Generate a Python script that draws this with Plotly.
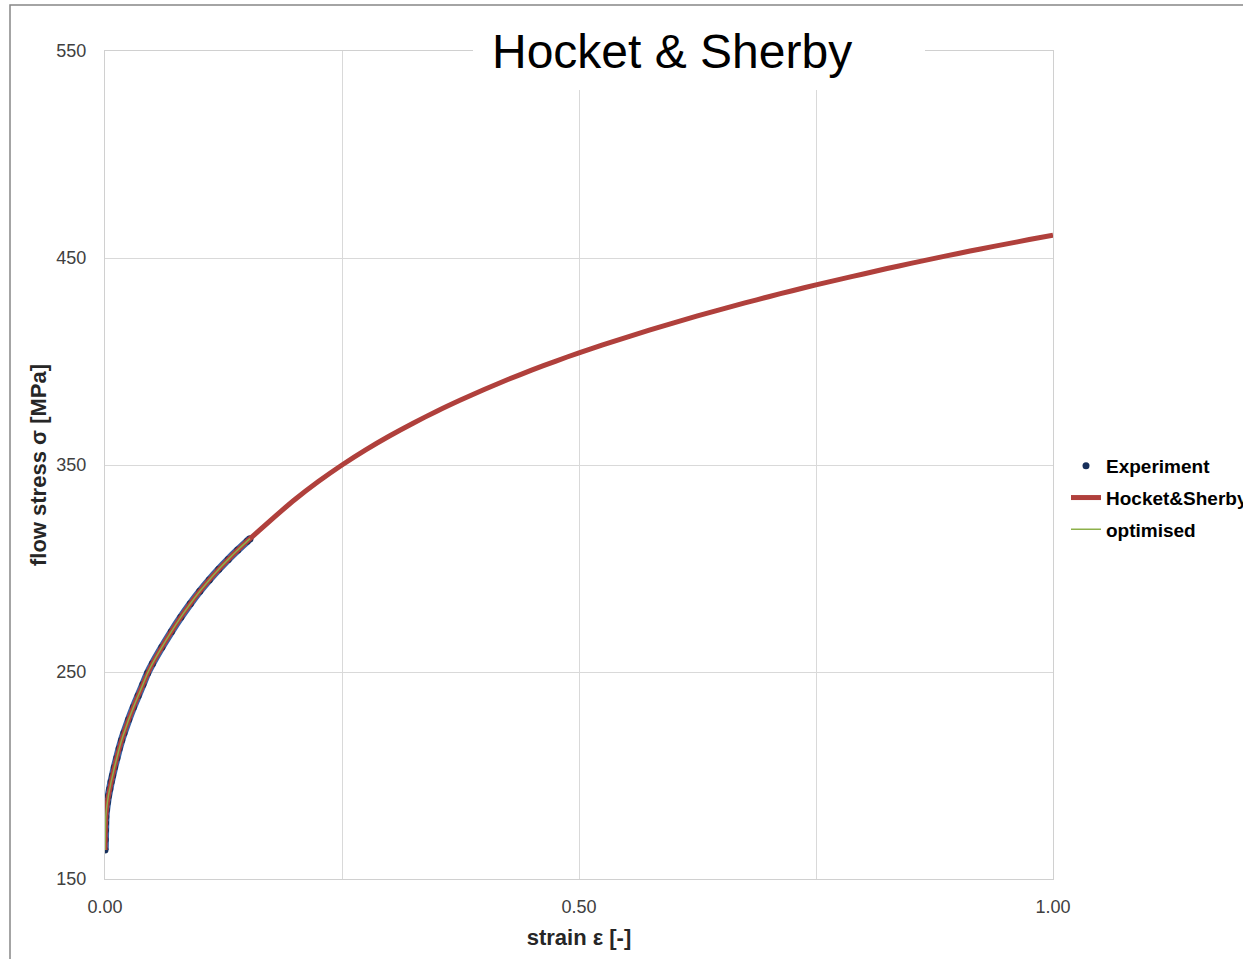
import plotly.graph_objects as go

# Measured flow curve (strain [-], flow stress [MPa])
exp_strain = [0, 0.0002, 0.0004, 0.0006, 0.0008, 0.0015, 0.0025, 0.0035, 0.005, 0.0065,
              0.008, 0.01, 0.0125, 0.015, 0.0175, 0.02, 0.025, 0.03, 0.035, 0.04,
              0.045, 0.05, 0.06, 0.07, 0.08, 0.09, 0.10, 0.11, 0.12, 0.13,
              0.14, 0.15, 0.153]
exp_stress = [164, 169, 173.5, 177, 180, 183.5, 187, 190, 193.5, 197,
              200, 204, 208.5, 213, 217, 220.5, 227, 233, 238.5, 244,
              249.5, 254, 262, 269.5, 276.5, 283, 289, 294.5, 299.6, 304.4,
              308.9, 313.2, 314.4]

# Hocket & Sherby model curve, extrapolated to strain 1.0
hs_strain = [0, 0.0008, 0.0025, 0.005, 0.01, 0.015, 0.02, 0.03, 0.04, 0.05,
             0.06, 0.07, 0.08, 0.09, 0.1, 0.11, 0.12, 0.13, 0.14, 0.15,
             0.175, 0.2, 0.225, 0.25, 0.275, 0.3, 0.325, 0.35, 0.375, 0.4,
             0.425, 0.45, 0.475, 0.5, 0.525, 0.55, 0.575, 0.6, 0.625, 0.65,
             0.675, 0.7, 0.725, 0.75, 0.775, 0.8, 0.825, 0.85, 0.875, 0.9,
             0.925, 0.95, 0.975, 1.0]
hs_stress = [164, 180, 187, 193.5, 204, 213, 220.5, 233, 244, 254,
             262, 269.5, 276.5, 283, 289, 294.5, 299.6, 304.4, 308.9, 313.2,
             323.4, 333.2, 342.0, 350.0, 357.3, 364.0, 370.2, 376.0, 381.4, 386.5,
             391.3, 395.8, 400.1, 404.2, 408.0, 411.7, 415.3, 418.7, 422.0, 425.2,
             428.3, 431.3, 434.2, 437.0, 439.7, 442.3, 444.9, 447.4, 449.8, 452.2,
             454.5, 456.7, 458.9, 461.0]

# Optimised fit over the measured range
opt_strain = exp_strain
opt_stress = exp_stress

x_ticks = [0, 0.25, 0.5, 0.75, 1.0]
x_ticktext = ["0.00", "", "0.50", "", "1.00"]
y_ticks = [150, 250, 350, 450, 550]

FONT = "Liberation Sans, Arial, sans-serif"

fig = go.Figure()

# continuous band of dense measurement points
fig.add_trace(go.Scatter(
    x=exp_strain, y=exp_stress, mode="lines",
    line=dict(color="#3463a8", width=7.5, shape="spline", smoothing=0.6),
    showlegend=False, hoverinfo="skip"))
fig.add_trace(go.Scatter(
    x=exp_strain, y=exp_stress, mode="markers", name="Experiment", legendgroup="a",
    marker=dict(color="#172f5a", size=7)))
fig.add_trace(go.Scatter(
    x=hs_strain, y=hs_stress, mode="lines", name="Hocket&Sherby", legendgroup="b",
    line=dict(color="#b0403c", width=5, shape="spline", smoothing=0.6)))
fig.add_trace(go.Scatter(
    x=opt_strain, y=opt_stress, mode="lines", name="optimised", legendgroup="c",
    line=dict(color="#8db04a", width=1.5, shape="spline", smoothing=0.6)))

W, H = 1243, 959
L, R, T, B = 105, 190, 51, 80
pw, ph = W - L - R, H - T - B


def px(xp):
    return (xp - L) / pw


def py(yp):
    return (H - B - yp) / ph


fig.update_layout(
    width=W, height=H,
    margin=dict(l=L, r=R, t=T, b=B, autoexpand=False),
    paper_bgcolor="white", plot_bgcolor="white",
    font=dict(family=FONT, color="#404040"),
    legend=dict(x=px(1066), y=py(498), xanchor="left", yanchor="middle",
                font=dict(family=FONT, size=19, color="#000000", weight="bold"),
                bgcolor="rgba(0,0,0,0)", tracegroupgap=4, itemwidth=30),
    shapes=[
        # chart frame
        dict(type="rect", xref="paper", yref="paper", x0=px(10), x1=px(1300), y0=py(1000), y1=py(5),
             line=dict(color="#878787", width=1.5), fillcolor="rgba(0,0,0,0)", layer="above"),
        # title backing
        dict(type="rect", xref="paper", yref="paper", x0=px(473), x1=px(925), y0=py(90), y1=py(20),
             line=dict(width=0), fillcolor="white", layer="above"),
    ],
    annotations=[
        dict(text="Hocket & Sherby", xref="paper", yref="paper", x=px(672), y=py(51),
             xanchor="center", yanchor="middle", showarrow=False,
             font=dict(family=FONT, size=48, color="#000000")),
    ],
)

fig.update_xaxes(
    range=[0, 1], tickvals=x_ticks, ticktext=x_ticktext,
    showgrid=True, gridcolor="#d9d9d9", gridwidth=1, zeroline=False,
    showline=True, linecolor="#d0d0d0", linewidth=1, mirror=True,
    ticks="", ticklabelstandoff=11,
    tickfont=dict(family=FONT, size=18, color="#404040"),
    title=dict(text="strain ε [-]", standoff=14,
               font=dict(family=FONT, size=22, color="#262626", weight="bold")),
)
fig.update_yaxes(
    range=[150, 550], tickvals=y_ticks,
    showgrid=True, gridcolor="#d9d9d9", gridwidth=1, zeroline=False,
    showline=True, linecolor="#d0d0d0", linewidth=1, mirror=True,
    ticks="", ticklabelstandoff=14,
    tickfont=dict(family=FONT, size=18, color="#404040"),
    title=dict(text="flow stress σ [MPa]", standoff=3,
               font=dict(family=FONT, size=22, color="#262626", weight="bold")),
)

fig.write_html("out.html")
